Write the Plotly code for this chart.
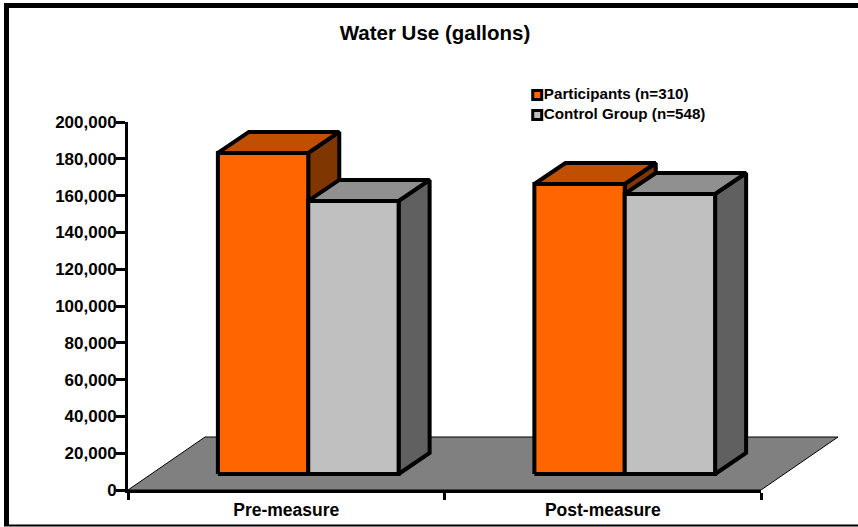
import plotly.graph_objects as go

# chart data
categories = ["Pre-measure", "Post-measure"]
participants = [174500, 157600]
control_group = [148400, 152200]
series_names = ["Participants (n=310)", "Control Group (n=548)"]
y_ticks = list(range(0, 200001, 20000))

# colours for each series: front, top, side
orange = ["#FF6600", "#C05000", "#803600"]
grey = ["#C0C0C0", "#909090", "#606060"]

# fake 3d geometry in axis units
bar_w = 0.2855
bar_dx = 0.098
bar_dy = 11400
base_y = 8700
group_off = 0.0695
floor_dx = 0.2433
floor_dy = 28800

# pixel layout: the marks get a wider, taller plot area than the visible axes
W, H = 858, 527
left, bottom = 128, 490
axis_right, axis_top = 761, 122
plot_right, plot_top = 838, 80
plot_w = plot_right - left
plot_h = bottom - plot_top
y_max = 200000 * plot_h / (bottom - axis_top)


def px_x(p):
    return (p - left) / plot_w


def px_y(p):
    return (bottom - p) / plot_h


fig = go.Figure()


def polygon(xs, ys, color, width=4):
    fig.add_trace(go.Scatter(x=xs + xs[:1], y=ys + ys[:1], mode="lines", fill="toself",
                             fillcolor=color, line=dict(color="black", width=width),
                             showlegend=False, hoverinfo="skip"))


# STEP 1: floor
polygon([0, 2, 2 + floor_dx, floor_dx], [0, 0, floor_dy, floor_dy], "#808080", width=1)

# STEP 2: bars, each one side then top then front
for i, cat in enumerate(categories):
    center = i + 0.5 + group_off
    for j, (vals, cols) in enumerate([(participants, orange), (control_group, grey)]):
        x0 = center + (j - 1) * bar_w
        x1 = x0 + bar_w
        y1 = base_y + vals[i]
        polygon([x1, x1 + bar_dx, x1 + bar_dx, x1],
                [base_y, base_y + bar_dy, y1 + bar_dy, y1], cols[2])
        polygon([x0, x1, x1 + bar_dx, x0 + bar_dx],
                [y1, y1, y1 + bar_dy, y1 + bar_dy], cols[1])
        polygon([x0, x1, x1, x0], [base_y, base_y, y1, y1], cols[0])

# STEP 3: legend placed by hand so the swatch sits right next to its text
legend_x = 1.293
legend_y = [214700, 203800]
fig.add_trace(go.Scatter(x=[legend_x, legend_x], y=legend_y, mode="markers+text",
                         text=series_names, textposition="middle right",
                         textfont=dict(family="Liberation Sans", size=15.2, color="black", weight="bold"),
                         marker=dict(symbol="square", size=9, color=[orange[0], grey[0]],
                                     line=dict(color="black", width=3)),
                         showlegend=False, hoverinfo="skip"))

# STEP 4: empty trace so the visible axes get drawn on top of the marks
fig.add_trace(go.Scatter(x=[None], y=[None], xaxis="x2", yaxis="y2", showlegend=False, hoverinfo="skip"))

tick_font = dict(family="Liberation Sans", size=17, color="black", weight="bold")
frame_l = px_x(6.5)
fig.update_layout(
    width=W, height=H,
    margin=dict(l=left, r=W - plot_right, t=plot_top, b=H - bottom, pad=0, autoexpand=False),
    paper_bgcolor="white", plot_bgcolor="rgba(0,0,0,0)",
    showlegend=False,
    title=dict(text="Water Use (gallons)", x=435 / W, xanchor="center", y=1 - 33 / H, yanchor="middle",
               font=dict(family="Liberation Sans", size=20.5, color="black", weight="bold")),
    font=dict(family="Liberation Sans", color="black"),
    xaxis=dict(range=[0, 2 + floor_dx], visible=False, domain=[0, 1]),
    yaxis=dict(range=[0, y_max], visible=False, domain=[0, 1]),
    xaxis2=dict(range=[0, 2], domain=[0, (axis_right - left) / plot_w], anchor="y2", automargin=False,
                tickmode="array", tickvals=[0.5, 1.5], ticktext=categories, ticks="",
                showgrid=False, zeroline=False, showline=True, linecolor="black", linewidth=3,
                tickfont=dict(family="Liberation Sans", size=17.5, color="black", weight="bold"),
                ticklabelstandoff=2,
                minor=dict(tickmode="array", tickvals=[0, 1, 2], ticks="outside", ticklen=7, tickwidth=3,
                           tickcolor="black", showgrid=False)),
    yaxis2=dict(range=[0, 200000], domain=[0, (bottom - axis_top) / plot_h], anchor="x2", automargin=False,
                tickmode="array", tickvals=y_ticks, tickformat=",", ticks="outside",
                ticklen=9, tickwidth=3, tickcolor="black", showgrid=False, zeroline=False, showline=True,
                linecolor="black", linewidth=3, tickfont=tick_font, ticklabelstandoff=-4),
    shapes=[
        dict(type="line", xref="paper", yref="paper", x0=frame_l, x1=frame_l,
             y0=px_y(526), y1=px_y(3), line=dict(color="black", width=5)),
        dict(type="line", xref="paper", yref="paper", x0=px_x(4), x1=px_x(W),
             y0=px_y(5.5), y1=px_y(5.5), line=dict(color="black", width=5)),
        dict(type="line", xref="paper", yref="paper", x0=px_x(4), x1=px_x(W),
             y0=px_y(525.5), y1=px_y(525.5), line=dict(color="black", width=2)),
    ],
)

fig.write_html("out.html", config={"displayModeBar": False},
               post_script="document.body.style.margin='0';document.body.style.overflow='hidden';")
